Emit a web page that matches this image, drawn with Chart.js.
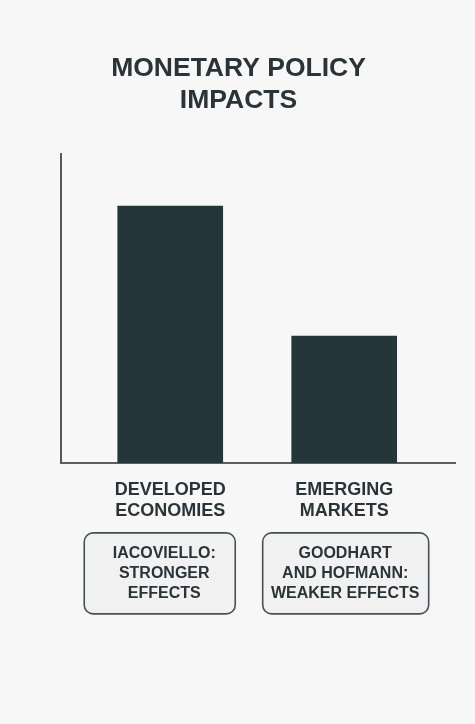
<!DOCTYPE html>
<html>
<head>
<meta charset="utf-8">
<script src="https://cdn.jsdelivr.net/npm/chart.js@4"></script>
<style>
  html, body { margin: 0; padding: 0; background: #f7f7f7; }
  #wrap { width: 475px; height: 724px; }
</style>
</head>
<body>
<div id="wrap"><canvas id="c" width="475" height="724"></canvas></div>
<script>
// Chart content
const titleLines = ['MONETARY POLICY', 'IMPACTS'];
const categories = [['DEVELOPED', 'ECONOMIES'], ['EMERGING', 'MARKETS']];
const impactValues = [83, 41];
const findings = [
  ['IACOVIELLO:', 'STRONGER', 'EFFECTS'],
  ['GOODHART', 'AND HOFMANN:', 'WEAKER EFFECTS']
];

const FONT = '"Liberation Sans", Arial, Helvetica, sans-serif';
const INK = '#2a3337';

// Rounded note boxes under each category label
const noteBoxes = {
  id: 'noteBoxes',
  afterDraw(chart) {
    const { ctx, chartArea, scales } = chart;
    const boxW = [151, 166];
    const boxShift = [-10.5, 1.5];
    const textShift = [-6, 1];
    const boxH = 81;
    const top = chartArea.bottom + 70;
    ctx.save();
    findings.forEach((lines, i) => {
      const cx = scales.x.getPixelForValue(i);
      const x = cx + boxShift[i] - boxW[i] / 2;
      ctx.beginPath();
      ctx.roundRect(x, top, boxW[i], boxH, 9);
      ctx.fillStyle = '#f1f1f1';
      ctx.fill();
      ctx.lineWidth = 1.6;
      ctx.strokeStyle = '#4a4f52';
      ctx.stroke();
      ctx.fillStyle = INK;
      ctx.font = 'bold 16px ' + FONT;
      ctx.textAlign = 'center';
      ctx.textBaseline = 'middle';
      const mid = top + boxH / 2;
      lines.forEach((t, k) => {
        ctx.fillText(t, cx + textShift[i], mid + (k - (lines.length - 1) / 2) * 20);
      });
    });
    ctx.restore();
  }
};

new Chart(document.getElementById('c'), {
  type: 'bar',
  data: {
    datasets: [{
      data: impactValues.map((v, i) => ({ x: i, y: v })),
      backgroundColor: '#25363a',
      borderWidth: 0,
      barThickness: 105
    }]
  },
  options: {
    responsive: false,
    animation: false,
    layout: { padding: { left: 22, right: 20, top: 0, bottom: 185 } },
    plugins: {
      legend: { display: false },
      tooltip: { enabled: false },
      title: {
        display: true,
        text: titleLines,
        color: INK,
        font: { family: FONT, size: 26.5, weight: 'bold', lineHeight: 1.21 },
        padding: { top: 53, bottom: 36.5 }
      }
    },
    scales: {
      x: {
        type: 'linear',
        offset: false,
        min: -0.628,
        max: 1.637,
        afterBuildTicks(scale) {
          scale.ticks = categories.map((_, i) => ({ value: i }));
        },
        ticks: {
          autoSkip: false,
          maxRotation: 0,
          padding: 17,
          color: INK,
          font: { family: FONT, size: 18, weight: 'bold', lineHeight: 1.17 },
          callback: (v) => categories[v]
        },
        grid: { display: false, drawTicks: false, offset: false },
        border: { display: true, color: '#5a5f62', width: 2 }
      },
      y: {
        min: 0,
        max: 100,
        afterFit(scale) { scale.width = 39; },
        ticks: { display: false },
        grid: { display: false, drawTicks: false },
        border: { display: true, color: '#55595c', width: 2 }
      }
    }
  },
  plugins: [noteBoxes]
});
</script>
</body>
</html>
